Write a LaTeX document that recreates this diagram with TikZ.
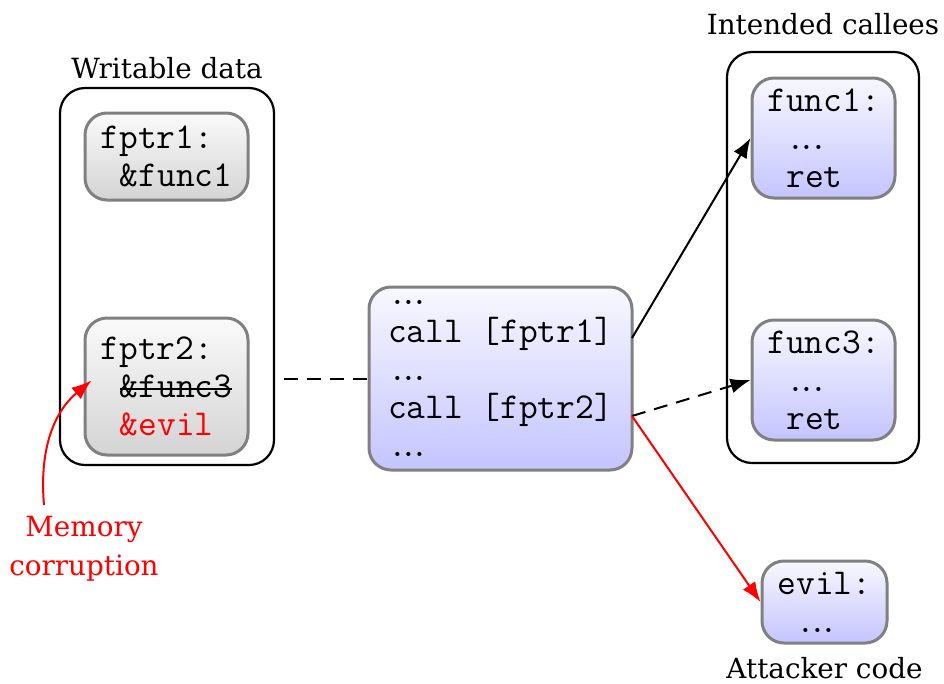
\documentclass[tikz,border=0pt]{standalone}
\usepackage{fontspec}
\setmainfont{DejaVu Serif}
\usetikzlibrary{positioning,arrows.meta}
\newcommand{\dts}{.\kern-0.2em.\kern-0.2em.}
\newcommand{\ind}{\hspace*{0.525em}}
\newcommand{\strike}[1]{\setbox0\hbox{#1}\rlap{\rule[0.22em]{\wd0}{1.6pt}}\box0}
\tikzset{
  group/.style={shape=rectangle, draw, line width=2.2pt, rounded corners=25pt, inner sep=0pt},
  cell/.style={shape=rectangle, draw=black!50, line width=3pt, rounded corners=22pt, inner sep=0pt,
    top color=black!2, bottom color=black!17, align=left,
    font=\fontsize{36.4}{38}\selectfont\ttfamily},
  code/.style={cell, top color=blue!3, bottom color=blue!23},
  title/.style={font=\fontsize{27.8}{39}\selectfont},
  tip/.style={-{Latex[length=20pt,width=15pt]}, line width=2pt},
}
\begin{document}
\begin{tikzpicture}[x=1pt, y=1pt]
\useasboundingbox (0,0) rectangle (944,-683);

% writable data
\node [group, minimum width=214pt, minimum height=377pt] (wdata) at (167,-276.5) {};
\node [title, above=4pt of wdata] {Writable data};
\node [cell, minimum width=163pt, minimum height=87pt] (fptr1) at (166.5,-156.5) {fptr1:\\\ind\&func1};
\node [cell, minimum width=163pt, minimum height=137pt] (fptr2) at (166.5,-386.5)
  {fptr2:\\\ind\strike{\&func3}\\\ind\textcolor{red}{\&evil}};

% caller
\node [code, minimum width=263pt, minimum height=183pt] (caller) at (500.5,-378.5)
  {\dts\\call [fptr1]\\\dts\\call [fptr2]\\\dts};

% intended callees
\node [group, minimum width=192pt, minimum height=411pt] (callees) at (823,-257.5) {};
\node [title, above=12pt of callees] {Intended callees};
\node [code, minimum width=143pt, minimum height=120pt] (func1) at (823.5,-138) {func1:\\\ind\dts\\\ind ret};
\node [code, minimum width=143pt, minimum height=120pt] (func3) at (823.5,-380) {func3:\\\ind\dts\\\ind ret};

% attacker
\node [code, minimum width=125pt, minimum height=82pt] (evil) at (824.5,-602) {evil:\\\ind\dts};
\node [title, below=9pt of evil] {Attacker code};
\node [title, red, align=center] (memory) at (84,-549) {Memory\\corruption};

\coordinate (call1) at (632,-338);
\coordinate (call2) at (632,-416);
\coordinate (memtop) at (44,-505);

\draw [line width=2pt, dash pattern=on 14pt off 9pt, shorten <=34pt] (fptr2.east |- caller.west) -- (caller.west);
\draw [tip] (call1) -- (func1.west);
\draw [tip, dash pattern=on 14pt off 9pt] (call2) -- (func3.west);
\draw [tip, red] (call2) -- (evil.west);
\draw [tip, red] (memtop) to [out=95, in=220] ([xshift=8pt,yshift=6pt]fptr2.west);
\end{tikzpicture}
\end{document}
